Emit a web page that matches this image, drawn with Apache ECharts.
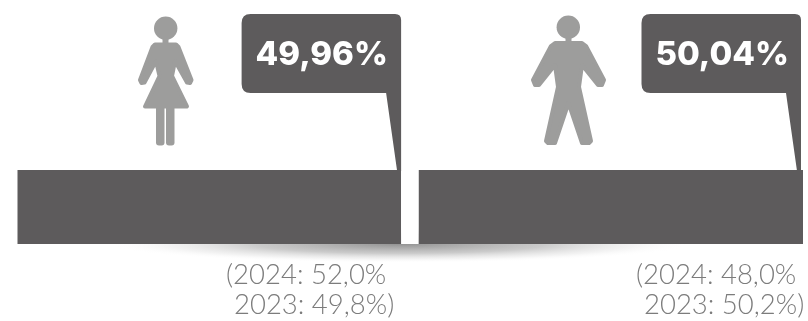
<!DOCTYPE html>
<html><head><meta charset="utf-8">
<style>html,body{margin:0;padding:0;background:#fff}#c{width:808px;height:321px}</style>
<script src="https://cdn.jsdelivr.net/npm/echarts@6/dist/echarts.min.js"></script>
</head><body><div id="c"></div>
<script>
const groups = ['Mulheres', 'Homens'];
const shares = [49.96, 50.04];
const shareLabels = ['49,96%', '50,04%'];
const gapValue = 2.3;
const historyLabels = [['(2024: 52,0%', '2023: 49,8%)'], ['(2024: 48,0%', '2023: 50,2%)']];
const DARK = '#5d5b5c', ICON = '#9d9d9c', SUB = '#7c7c7c';

const chart = echarts.init(document.getElementById('c'), null, {renderer: 'canvas'});

function poly(points) {
  return {type: 'polygon', z: 5, shape: {points},
    style: {fill: ICON, stroke: ICON, lineWidth: 4, lineJoin: 'round'}};
}
const icons = [
  {type: 'circle', z: 5, shape: {cx: 165.7, cy: 28.3, r: 11.7}, style: {fill: ICON}},
  {type: 'rect', z: 5, shape: {x: 162.5, y: 36, width: 6, height: 10}, style: {fill: ICON}},
  poly([[155,44.5],[176,44.5],[178.5,47],[191.5,80],[190,83],[187,82.5],[175,61],[172,76],[187,106.5],[145,106.5],[159.5,76],[156,61],[144.5,82.5],[141.5,83],[140,80],[152.5,47]]),
  {type: 'rect', z: 5, shape: {x: 156, y: 105, width: 8.5, height: 40.5, r: [0,0,3,3]}, style: {fill: ICON}},
  {type: 'rect', z: 5, shape: {x: 166, y: 105, width: 8.5, height: 40.5, r: [0,0,3,3]}, style: {fill: ICON}},
  {type: 'circle', z: 5, shape: {cx: 568.3, cy: 27.3, r: 11.7}, style: {fill: ICON}},
  {type: 'rect', z: 5, shape: {x: 565.5, y: 35, width: 6, height: 10}, style: {fill: ICON}},
  poly([[555,43],[582,43],[586,46],[604,80],[602,85],[598,85],[582,65],[579,87],[591,141],[589,143],[582,143],[568.5,103],[555,143],[548,143],[546,141],[558,87],[555,65],[539,85],[535,85],[533,80],[551,46]])
];

chart.setOption({
  animation: false,
  backgroundColor: '#fff',
  grid: {left: 17.5, top: 170, width: 785.5, height: 74, containLabel: false},
  xAxis: {type: 'value', min: 0, max: shares[0] + gapValue + shares[1], show: false},
  yAxis: {type: 'category', data: ['Total'], show: false},
  graphic: [
    {type: 'circle', z: -1, zlevel: 0, x: 400, y: 244, scaleY: 0.065, shape: {r: 290},
      style: {fill: new echarts.graphic.RadialGradient(0.5, 0.5, 0.5, [
        {offset: 0, color: 'rgba(110,110,110,0.75)'},
        {offset: 0.5, color: 'rgba(140,140,140,0.45)'},
        {offset: 0.8, color: 'rgba(190,190,190,0.18)'},
        {offset: 1, color: 'rgba(255,255,255,0)'}])}}
  ].concat(icons),
  series: [
    {name: groups[0], type: 'bar', stack: 't', barWidth: '100%', z: 3, data: [shares[0]], itemStyle: {color: DARK}},
    {name: 'gap', type: 'bar', stack: 't', barWidth: '100%', z: 3, data: [gapValue], itemStyle: {color: '#fff'}},
    {name: groups[1], type: 'bar', stack: 't', barWidth: '100%', z: 3, data: [shares[1]], itemStyle: {color: DARK}},
    {
      type: 'custom', z: 4, coordinateSystem: 'cartesian2d', clip: false,
      data: [[shares[0], 0, 0], [shares[0] + gapValue + shares[1], 0, 1]],
      encode: {x: 0, y: 1},
      renderItem(params, api) {
        const idx = api.value(2);
        const end = api.coord([api.value(0), 0]);
        const right = idx === 0 ? end[0] : end[0] - 2;
        const left = right - 159.5, top = 14, bot = 93, baseY = 171, r = 9;
        const body = {type: 'path', shape: {
          pathData: `M${left+r} ${top}L${right-r+3} ${top}Q${right} ${top} ${right} ${top+r-3}L${right} ${baseY}L${right-4} ${baseY}L${right-15} ${bot}L${left+r} ${bot}Q${left} ${bot} ${left} ${bot-r}L${left} ${top+r}Q${left} ${top} ${left+r} ${top}Z`,
          x: left, y: top, width: right - left, height: baseY - top},
          style: {fill: DARK}};
        const lines = historyLabels[idx];
        const x0 = idx === 0 ? 226 : 636;
        return {type: 'group', children: [
          body,
          {type: 'text', x: left + 14, y: 55.5, style: {text: shareLabels[idx], fill: '#fff',
            font: '800 33px Inter', textAlign: 'left', textVerticalAlign: 'middle'}},
          {type: 'text', x: x0, y: 275, style: {text: lines[0], fill: SUB,
            font: '300 27.5px Lato', textAlign: 'left', textVerticalAlign: 'middle'}},
          {type: 'text', x: x0 + 8, y: 305, style: {text: lines[1], fill: SUB,
            font: '300 27.5px Lato', textAlign: 'left', textVerticalAlign: 'middle'}}
        ]};
      }
    }
  ]
});
</script></body></html>
